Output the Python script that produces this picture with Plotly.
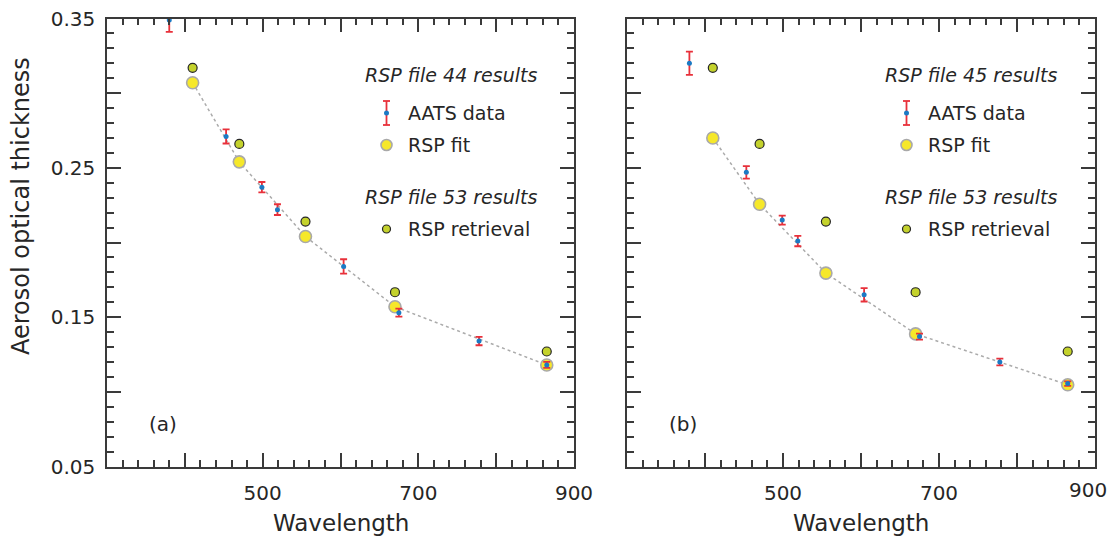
import plotly.graph_objects as go

# AATS sun-photometer channels (nm) and optical thickness with uncertainties
aats_wl = [380, 453, 499, 519, 604, 675, 778, 865]
aats_44 = [0.349, 0.271, 0.237, 0.222, 0.184, 0.153, 0.134, 0.118]
aats_44_err = [0.008, 0.0047, 0.0035, 0.0036, 0.0048, 0.0027, 0.0028, 0.002]
aats_45 = [0.320, 0.247, 0.215, 0.201, 0.165, 0.137, 0.120, 0.1055]
aats_45_err = [0.0078, 0.0042, 0.003, 0.0035, 0.0045, 0.002, 0.0023, 0.0015]

# RSP bands (nm): fits for files 44 / 45 and the file 53 retrieval
rsp_wl = [410, 470, 555, 670, 865]
fit_44 = [0.307, 0.254, 0.204, 0.157, 0.118]
fit_45 = [0.270, 0.2256, 0.1795, 0.1388, 0.1047]
retr_53 = [0.317, 0.266, 0.214, 0.1667, 0.127]

panel_labels = ["(a)", "(b)"]
file_titles = ["RSP file 44 results", "RSP file 45 results"]
retr_title = "RSP file 53 results"

x_tickvals = [300, 400, 500, 600, 700, 800, 900]
x_ticktext = ["", "", "500", "", "700", "", "900"]
y_tickvals = [0.05, 0.10, 0.15, 0.20, 0.25, 0.30, 0.35]
y_ticktext = ["0.05", "", "0.15", "", "0.25", "", "0.35"]

RED = "#e8303a"
BLUE = "#1b7ac4"
YELLOW = "#f6e82a"
GREEN = "#c4d22c"
FRAME = "#3a3a3a"
TEXT = "#262626"
FONT = "DejaVu Sans"

W, H = 1109, 536
fig = go.Figure()

panels = [
    dict(xa="x", ya="y", aats=aats_44, err=aats_44_err, fit=fit_44, px=(107, 574)),
    dict(xa="x2", ya="y2", aats=aats_45, err=aats_45_err, fit=fit_45, px=(627, 1095)),
]
top_px, bot_px = 18.5, 466.5

for i, p in enumerate(panels):
    # fitted spectrum
    fig.add_trace(go.Scatter(
        x=rsp_wl, y=p["fit"], xaxis=p["xa"], yaxis=p["ya"], mode="lines",
        line=dict(color="#ababab", width=1.5, dash="dot"), showlegend=False))
    fig.add_trace(go.Scatter(
        x=rsp_wl, y=retr_53, xaxis=p["xa"], yaxis=p["ya"], mode="markers",
        marker=dict(size=9, color=GREEN, line=dict(color="#262626", width=1.2)),
        showlegend=False))
    fig.add_trace(go.Scatter(
        x=rsp_wl, y=p["fit"], xaxis=p["xa"], yaxis=p["ya"], mode="markers",
        marker=dict(size=12, color=YELLOW, line=dict(color="#a9a9a9", width=1.6)),
        showlegend=False))
    fig.add_trace(go.Scatter(
        x=aats_wl, y=p["aats"], xaxis=p["xa"], yaxis=p["ya"], mode="markers",
        marker=dict(size=5, color=BLUE),
        error_y=dict(type="data", array=p["err"], visible=True, color=RED,
                     thickness=1.8, width=3.5),
        showlegend=False))

axis_common = dict(
    showline=True, linecolor=FRAME, linewidth=1.5, mirror="allticks",
    ticks="inside", ticklen=14, tickwidth=1.5, tickcolor=FRAME,
    showgrid=False, zeroline=False, tickmode="array", automargin=False,
    tickfont=dict(family=FONT, size=20, color=TEXT),
)

layout = dict(
    width=W, height=H, margin=dict(l=0, r=0, t=0, b=0),
    paper_bgcolor="white", plot_bgcolor="white", showlegend=False,
)

ann = []
shapes = []
for i, p in enumerate(panels):
    sfx = "" if i == 0 else "2"
    x0, x1 = p["px"]
    # the right panel's last label sits at the page edge, so it is placed by hand
    ticktext = x_ticktext if i == 0 else x_ticktext[:-1] + [""]
    layout["xaxis" + sfx] = dict(
        axis_common, range=[300, 900], domain=[x0 / W, x1 / W],
        anchor="y" + sfx, tickvals=x_tickvals, ticktext=ticktext,
        ticklabelstandoff=8,
        minor=dict(tickmode="linear", tick0=300, dtick=20, ticks="inside",
                   ticklen=7, tickwidth=1.5, tickcolor=FRAME),
    )
    layout["yaxis" + sfx] = dict(
        axis_common, range=[0.05, 0.35],
        domain=[1 - bot_px / H, 1 - top_px / H], anchor="x" + sfx,
        tickvals=y_tickvals,
        ticktext=y_ticktext if i == 0 else [""] * len(y_tickvals),
        ticklabelstandoff=6,
        minor=dict(tickmode="linear", tick0=0.05, dtick=0.01, ticks="inside",
                   ticklen=7, tickwidth=1.5, tickcolor=FRAME),
    )

    xd, yd = "x%s domain" % sfx, "y%s domain" % sfx

    def ydom(py):
        return 1 - (py - top_px) / (bot_px - top_px)

    def xdom(px):
        return (px - x0) / (x1 - x0)

    if i == 1:
        ann.append(dict(text=x_ticktext[-1], xref="paper", yref="paper",
                        x=1087.5 / W, y=1 - 489.5 / H, xanchor="center",
                        yanchor="middle", showarrow=False,
                        font=dict(family=FONT, size=20, color=TEXT)))

    # x-axis title
    ann.append(dict(text="Wavelength", xref=xd, yref="paper", x=0.5,
                    y=1 - 523 / H, xanchor="center", yanchor="middle",
                    showarrow=False,
                    font=dict(family=FONT, size=23, color=TEXT)))
    # panel tag
    ann.append(dict(text=panel_labels[i], xref=xd, yref=yd, x=xdom(x0 + 55.5),
                    y=ydom(424), xanchor="center", yanchor="middle",
                    showarrow=False,
                    font=dict(family=FONT, size=20, color=TEXT)))

    # legend block
    sym_x = xdom(x0 + 279.5)
    txt_x = xdom(x0 + 299)
    head_x = xdom(x0 + 432)
    rows = dict(h1=75, aats=113, fit=145, h2=197, retr=229)
    for key, txt in (("h1", file_titles[i]), ("h2", retr_title)):
        ann.append(dict(text="<i>" + txt + "</i>", xref=xd, yref=yd, x=head_x,
                        y=ydom(rows[key]), xanchor="right", yanchor="middle",
                        showarrow=False,
                        font=dict(family=FONT, size=19, color=TEXT)))
    for key, txt in (("aats", "AATS data"), ("fit", "RSP fit"),
                     ("retr", "RSP retrieval")):
        ann.append(dict(text=txt, xref=xd, yref=yd, x=txt_x, y=ydom(rows[key]),
                        xanchor="left", yanchor="middle", showarrow=False,
                        font=dict(family=FONT, size=19, color=TEXT)))

    def pix_shape(kind, cx, cy, dx0, dx1, dy0, dy1, **kw):
        return dict(type=kind, xref=xd, yref=yd, xsizemode="pixel",
                    ysizemode="pixel", xanchor=cx, yanchor=cy,
                    x0=dx0, x1=dx1, y0=dy0, y1=dy1, **kw)

    cy = ydom(rows["aats"])
    shapes.append(pix_shape("line", sym_x, cy, 0, 0, -12, 12,
                            line=dict(color=RED, width=1.8)))
    shapes.append(pix_shape("line", sym_x, cy, -3.5, 3.5, 12, 12,
                            line=dict(color=RED, width=1.8)))
    shapes.append(pix_shape("line", sym_x, cy, -3.5, 3.5, -12, -12,
                            line=dict(color=RED, width=1.8)))
    shapes.append(pix_shape("circle", sym_x, cy, -2.5, 2.5, -2.5, 2.5,
                            fillcolor=BLUE, line=dict(width=0)))
    cy = ydom(rows["fit"])
    shapes.append(pix_shape("circle", sym_x, cy, -5.5, 5.5, -5.5, 5.5,
                            fillcolor=YELLOW, line=dict(color="#a9a9a9", width=1.6)))
    cy = ydom(rows["retr"])
    shapes.append(pix_shape("circle", sym_x, cy, -4, 4, -4, 4,
                            fillcolor=GREEN, line=dict(color="#262626", width=1.2)))

# shared y-axis title
ann.append(dict(text="Aerosol optical thickness", xref="paper", yref="paper",
                x=21 / W, y=1 - 206 / H, textangle=-90, xanchor="center",
                yanchor="middle", showarrow=False,
                font=dict(family=FONT, size=24, color=TEXT)))

layout["annotations"] = ann
layout["shapes"] = shapes
fig.update_layout(**layout)
fig.write_html("out.html")
